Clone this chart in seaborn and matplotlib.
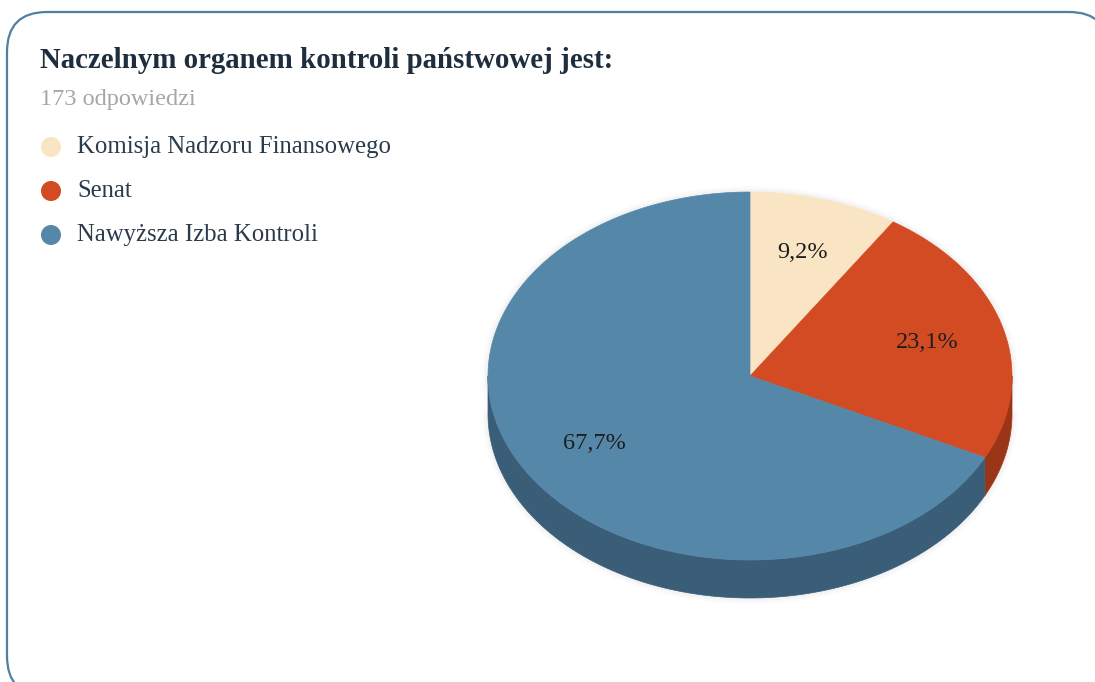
import numpy as np
import matplotlib.pyplot as plt
import seaborn as sns
from matplotlib.patches import Polygon, FancyBboxPatch, Circle

title = "Naczelnym organem kontroli państwowej jest:"
subtitle = "173 odpowiedzi"
labels = ["Komisja Nadzoru Finansowego", "Senat", "Nawyższa Izba Kontroli"]
shares = [9.2, 23.1, 67.7]
colors = ["#f9e5c3", "#d34b22", "#5587a9"]
side_colors = ["#c9b593", "#9b3518", "#3a5d78"]

sns.set_theme(style="white")
plt.rcParams['font.family'] = ['Liberation Serif', 'DejaVu Serif']

fig = plt.figure(figsize=(10.95, 6.82), dpi=100)
ax = fig.add_axes([0, 0, 1, 1])
ax.set_xlim(0, 1095)
ax.set_ylim(682, 0)
ax.set_aspect('equal')
ax.axis('off')

# card frame
ax.add_patch(FancyBboxPatch((7, 12), 1102, 684, boxstyle="round,pad=0,rounding_size=40",
                            fc='white', ec='#4f7fa3', lw=1.6, zorder=0))

# pie geometry (pixels)
cx, cy, rx, ry, depth = 750, 376, 262, 184, 38


def pt(theta, r=1.0, dy=0.0):
    t = np.radians(theta)
    return cx + r * rx * np.sin(t), cy - r * ry * np.cos(t) + dy


bounds = np.concatenate([[0], np.cumsum(shares) / sum(shares) * 360])

# soft glow around the pie
th = np.linspace(0, 360, 400)
for lw, a in [(8, 0.04), (4, 0.06)]:
    ax.add_patch(Polygon(np.column_stack(pt(th)), closed=True, fc='none', ec='#888888',
                         lw=lw, alpha=a, zorder=1))
    xs, ys = pt(np.linspace(90, 270, 200), dy=depth)
    ax.plot(xs, ys, color='#888888', lw=lw, alpha=a, zorder=1)

# side walls
for i in range(len(shares)):
    a0, a1 = max(bounds[i], 90), min(bounds[i + 1], 270)
    if a1 <= a0:
        continue
    t = np.linspace(a0, a1, 200)
    top = np.column_stack(pt(t))
    bot = np.column_stack(pt(t[::-1], dy=depth))
    ax.add_patch(Polygon(np.vstack([top, bot]), closed=True, fc=side_colors[i],
                         ec=side_colors[i], lw=0.5, zorder=2))

# top face
for i in range(len(shares)):
    t = np.linspace(bounds[i], bounds[i + 1], 300)
    arc = np.column_stack(pt(t))
    ax.add_patch(Polygon(np.vstack([[cx, cy], arc]), closed=True, fc=colors[i],
                         ec=colors[i], lw=0.5, zorder=3))
    mid = (bounds[i] + bounds[i + 1]) / 2
    lx, ly = pt(mid, r=0.7)
    ax.text(lx, ly, f"{shares[i]:.1f}%".replace('.', ','), ha='center', va='center',
            fontsize=17.5, color='#1e1e1e', zorder=4)

# title and legend
ax.text(40, 61, title, fontsize=20.8, fontweight='bold', color='#1f2e3e', va='center')
ax.text(40, 99, subtitle, fontsize=17.5, color='#a6a6a6', va='center')
for i, lab in enumerate(labels):
    y = 147 + i * 44
    ax.add_patch(Circle((51, y), 10, fc=colors[i], ec='none'))
    ax.text(77, y, lab, fontsize=17.8, color='#2b3b4c', va='center')

fig.savefig('out.png', dpi=100)
